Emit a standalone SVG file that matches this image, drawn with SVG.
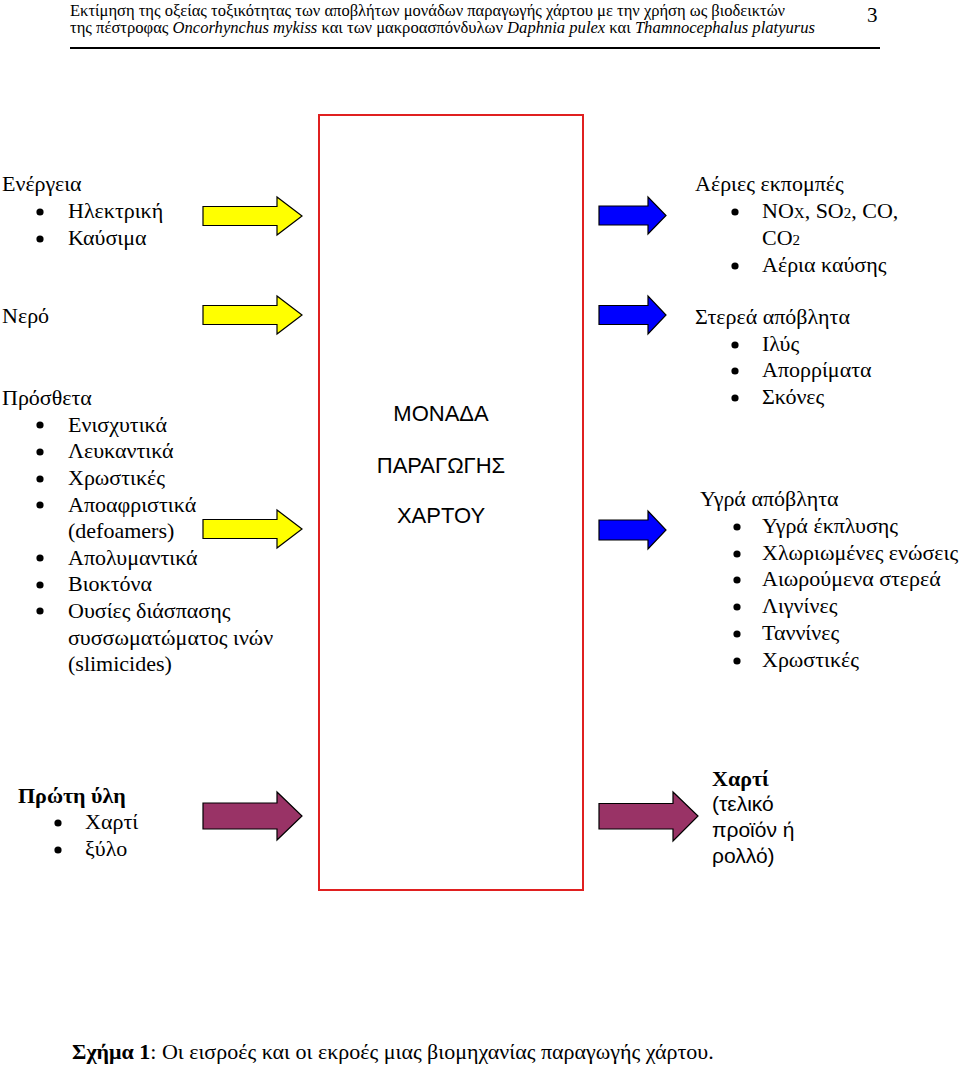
<svg xmlns="http://www.w3.org/2000/svg" width="960" height="1065" viewBox="0 0 960 1065">
<style>
.serif{font-family:"Liberation Serif","DejaVu Serif",serif;font-size:22px;fill:#000}
.sans{font-family:"Liberation Sans","DejaVu Sans",sans-serif;font-size:22px;fill:#000}
.sans2{font-family:"Liberation Sans","DejaVu Sans",sans-serif;font-size:21px;fill:#000}
.hdr{font-family:"Liberation Serif","DejaVu Serif",serif;font-size:17px;fill:#000}
.bold{font-weight:bold}
.sub{font-size:15px}
.arrow{stroke:#000;stroke-width:1.2;stroke-linejoin:miter}
.yellow{fill:#FFFF00}
.blue{fill:#0000FF}
.mag{fill:#993366}
</style>
<defs>
<circle id="dot" r="3.6" fill="#000"/>
</defs>
<rect width="960" height="1065" fill="#fff"/>
<g id="header">
<text class="hdr" x="70" y="16" textLength="715" lengthAdjust="spacingAndGlyphs">Εκτίμηση της οξείας τοξικότητας των αποβλήτων μονάδων παραγωγής χάρτου με την χρήση ως βιοδεικτών</text>
<text class="hdr" x="70" y="33" textLength="745" lengthAdjust="spacingAndGlyphs">της πέστροφας <tspan font-style="italic">Oncorhynchus mykiss</tspan> και των μακροασπόνδυλων <tspan font-style="italic">Daphnia pulex</tspan> και <tspan font-style="italic">Thamnocephalus platyurus</tspan></text>
<text class="hdr" x="867" y="22" style="font-size:21px">3</text>
<line x1="70" y1="48" x2="880" y2="48" stroke="#000" stroke-width="2"/>
</g>
<g id="unit">
<rect x="319" y="115" width="264" height="775" fill="none" stroke="#E02020" stroke-width="2"/>
<text class="sans" x="441" y="421" text-anchor="middle">ΜΟΝΑΔΑ</text>
<text class="sans" x="441" y="473" text-anchor="middle">ΠΑΡΑΓΩΓΗΣ</text>
<text class="sans" x="441" y="523" text-anchor="middle">ΧΑΡΤΟΥ</text>
</g>
<g id="energy">
<text class="serif" x="2" y="191">Ενέργεια</text>
<use href="#dot" x="40" y="212"/><text class="serif" x="68" y="218">Ηλεκτρική</text>
<use href="#dot" x="40" y="239"/><text class="serif" x="68" y="245">Καύσιμα</text>
</g>
<g id="water">
<text class="serif" x="2" y="323">Νερό</text>
</g>
<g id="additives">
<text class="serif" x="2" y="405">Πρόσθετα</text>
<use href="#dot" x="40" y="425"/><text class="serif" x="68" y="432">Ενισχυτικά</text>
<use href="#dot" x="40" y="452"/><text class="serif" x="68" y="458">Λευκαντικά</text>
<use href="#dot" x="40" y="479"/><text class="serif" x="68" y="485">Χρωστικές</text>
<use href="#dot" x="40" y="505"/><text class="serif" x="68" y="512">Αποαφριστικά</text>
<text class="serif" x="68" y="538">(defoamers)</text>
<use href="#dot" x="40" y="558"/><text class="serif" x="68" y="565">Απολυμαντικά</text>
<use href="#dot" x="40" y="585"/><text class="serif" x="68" y="591">Βιοκτόνα</text>
<use href="#dot" x="40" y="611"/><text class="serif" x="68" y="618">Ουσίες διάσπασης</text>
<text class="serif" x="68" y="645">συσσωματώματος ινών</text>
<text class="serif" x="68" y="671">(slimicides)</text>
</g>
<g id="raw">
<text class="serif bold" x="18" y="803">Πρώτη ύλη</text>
<use href="#dot" x="58" y="823"/><text class="serif" x="85" y="829">Χαρτί</text>
<use href="#dot" x="58" y="850"/><text class="serif" x="85" y="856">ξύλο</text>
</g>
<g id="gas">
<text class="serif" x="695" y="191">Αέριες εκπομπές</text>
<use href="#dot" x="735" y="212"/><text class="serif" x="762" y="218">NO<tspan class="sub">X</tspan>, SO<tspan class="sub">2</tspan>, CO,</text>
<text class="serif" x="762" y="245">CO<tspan class="sub">2</tspan></text>
<use href="#dot" x="735" y="266"/><text class="serif" x="762" y="272">Αέρια καύσης</text>
</g>
<g id="solid">
<text class="serif" x="695" y="324">Στερεά απόβλητα</text>
<use href="#dot" x="735" y="345"/><text class="serif" x="762" y="351">Ιλύς</text>
<use href="#dot" x="735" y="371"/><text class="serif" x="762" y="377">Απορρίματα</text>
<use href="#dot" x="735" y="398"/><text class="serif" x="762" y="404">Σκόνες</text>
</g>
<g id="liquid">
<text class="serif" x="700" y="506">Υγρά απόβλητα</text>
<use href="#dot" x="737" y="527"/><text class="serif" x="762" y="533">Υγρά έκπλυσης</text>
<use href="#dot" x="737" y="554"/><text class="serif" x="762" y="560">Χλωριωμένες ενώσεις</text>
<use href="#dot" x="737" y="580"/><text class="serif" x="762" y="586">Αιωρούμενα στερεά</text>
<use href="#dot" x="737" y="607"/><text class="serif" x="762" y="613">Λιγνίνες</text>
<use href="#dot" x="737" y="634"/><text class="serif" x="762" y="640">Ταννίνες</text>
<use href="#dot" x="737" y="661"/><text class="serif" x="762" y="667">Χρωστικές</text>
</g>
<g id="paper">
<text class="serif bold" x="712" y="786">Χαρτί</text>
<text class="sans2" x="712" y="811">(τελικό</text>
<text class="sans2" x="712" y="837">προϊόν ή</text>
<text class="sans2" x="712" y="863">ρολλό)</text>
</g>
<g id="connectors">
<polygon class="arrow yellow" points="203,206.5 277,206.5 277,197 302,216 277,235 277,225.5 203,225.5"/>
<polygon class="arrow yellow" points="203,305.5 277,305.5 277,296 302,315 277,334 277,324.5 203,324.5"/>
<polygon class="arrow yellow" points="203,519.5 277,519.5 277,510 302,529 277,548 277,538.5 203,538.5"/>
<polygon class="arrow blue" points="599,206 648,206 648,197 666,215.5 648,234 648,225 599,225"/>
<polygon class="arrow blue" points="599,305.5 648,305.5 648,296 666,315 648,334 648,324.5 599,324.5"/>
<polygon class="arrow blue" points="599,520 648,520 648,511 666,530 648,549 648,540 599,540"/>
<polygon class="arrow mag" points="203,803 277,803 277,792 302,816 277,840 277,829 203,829"/>
<polygon class="arrow mag" points="599,803.5 673,803.5 673,792 698,816 673,841 673,829 599,829"/>
</g>
<g id="caption">
<text class="serif" x="72" y="1059"><tspan class="bold">Σχήμα 1</tspan>: Οι εισροές και οι εκροές μιας βιομηχανίας παραγωγής χάρτου.</text>
</g>
</svg>
